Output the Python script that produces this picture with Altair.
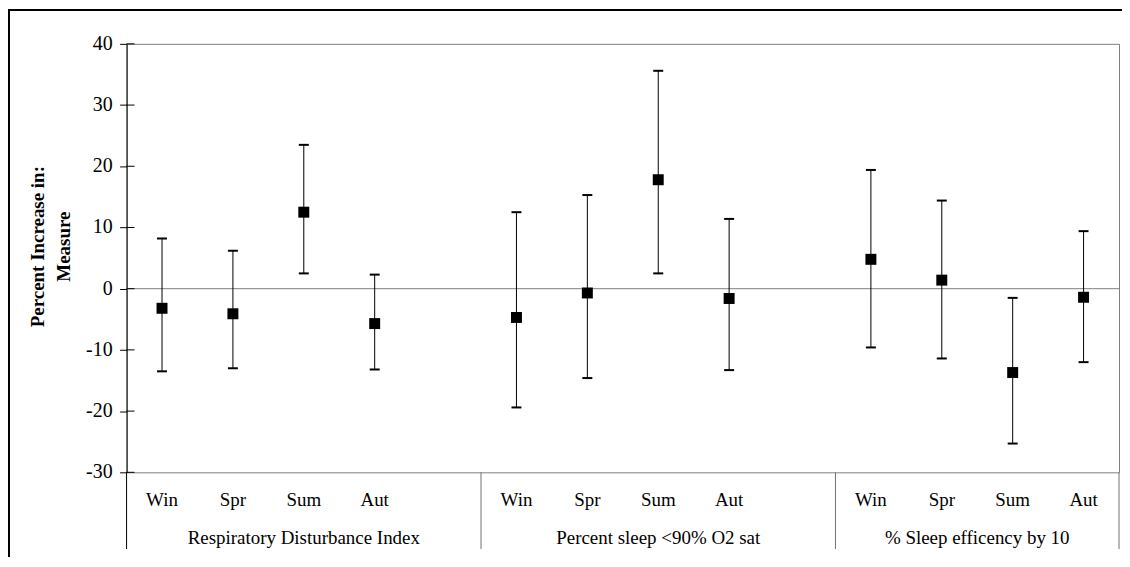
import altair as alt
import pandas as pd

groups = ["Respiratory Disturbance Index", "Percent sleep <90% O2 sat", "% Sleep efficency by 10"]
seasons = ["Win", "Spr", "Sum", "Aut"]
estimate = [[-3.2, -4.1, 12.5, -5.7], [-4.7, -0.7, 17.8, -1.6], [4.8, 1.4, -13.7, -1.4]]
lower = [[-13.5, -13.0, 2.5, -13.2], [-19.4, -14.6, 2.5, -13.3], [-9.6, -11.4, -25.3, -12.0]]
upper = [[8.2, 6.2, 23.5, 2.3], [12.5, 15.3, 35.6, 11.4], [19.4, 14.4, -1.5, 9.4]]
y_ticks = [-30, -20, -10, 0, 10, 20, 30, 40]
y_tick_labels = ["-30", "-20", "-10", "0", "10", "20", "30", "40"]
slots_per_group = [5, 5, 4]

W, H = 996, 430
FONT = "Liberation Serif"

rows, grows, bounds = [], [], [0]
start = 0
for g, name in enumerate(groups):
    for s, season in enumerate(seasons):
        rows.append({"group": name, "season": season, "pos": start + s + 0.5,
                     "est": estimate[g][s], "lo": lower[g][s], "hi": upper[g][s]})
    grows.append({"group": name, "center": start + slots_per_group[g] / 2})
    start += slots_per_group[g]
    bounds.append(start)

df = pd.DataFrame(rows)
gdf = pd.DataFrame(grows)
bdf = pd.DataFrame({"b": bounds})
tdf = pd.DataFrame({"t": y_ticks, "label": y_tick_labels})
zdf = pd.DataFrame({"z": [0]})
one = pd.DataFrame({"a": [0]})

xscale = alt.Scale(domain=[0, sum(slots_per_group)], nice=False, zero=False)
yscale = alt.Scale(domain=[-30, 40], nice=False, zero=False)

TITLE = ["Percent Increase in:", "Measure"]
yaxis = alt.Axis(values=y_ticks, tickSize=7, tickColor="black", domainColor="black",
                 labels=False,
                 grid=False, title=TITLE, titleFont=FONT,
                 titleFontSize=19, titleFontWeight="bold", titleColor="black",
                 titleX=-89, titleY=203, titleAngle=-90, titleAlign="center",
                 titleBaseline="middle", titleLineHeight=26)

X = alt.X("pos:Q", scale=xscale, axis=None)

points = alt.Chart(df).mark_square(size=121, color="black", filled=True, opacity=1).encode(
    x=X, y=alt.Y("est:Q", scale=yscale, axis=yaxis, title=TITLE))

zero = alt.Chart(zdf).mark_rule(color="#808080", strokeWidth=1).encode(
    y=alt.Y("z:Q", scale=yscale, axis=yaxis, title=TITLE))

inner_ticks = alt.Chart(tdf).mark_rule(color="black", strokeWidth=1).encode(
    y=alt.Y("t:Q", scale=yscale, axis=yaxis, title=TITLE), x=alt.value(0), x2=alt.value(8))

tick_labels = alt.Chart(tdf).mark_text(font=FONT, fontSize=20, color="black", align="right",
                                       baseline="middle").encode(
    y=alt.Y("t:Q", scale=yscale, axis=yaxis, title=TITLE), x=alt.value(-14), text="label:N")

bars = alt.Chart(df).mark_rule(color="black", strokeWidth=1).encode(
    x=X, y=alt.Y("lo:Q", scale=yscale, axis=yaxis, title=TITLE), y2="hi:Q")

cap_lo = alt.Chart(df).mark_tick(orient="horizontal", size=10, thickness=2, color="black", opacity=1).encode(
    x=X, y=alt.Y("lo:Q", scale=yscale, axis=yaxis, title=TITLE))
cap_hi = alt.Chart(df).mark_tick(orient="horizontal", size=10, thickness=2, color="black", opacity=1).encode(
    x=X, y=alt.Y("hi:Q", scale=yscale, axis=yaxis, title=TITLE))

season_text = alt.Chart(df).mark_text(font=FONT, fontSize=19, color="black", align="center",
                                      baseline="alphabetic").encode(
    x=X, y=alt.value(464), text="season:N")

group_text = alt.Chart(gdf).mark_text(font=FONT, fontSize=19, color="black", align="center",
                                      baseline="alphabetic").encode(
    x=alt.X("center:Q", scale=xscale, axis=None), y=alt.value(502), text="group:N")

separators = alt.Chart(bdf).mark_rule(strokeWidth=1).encode(
    x=alt.X("b:Q", scale=xscale, axis=None), y=alt.value(H), y2=alt.value(507),
    color=alt.condition(alt.datum.b == 0, alt.value("black"), alt.value("#707070")))

frame_left = alt.Chart(one).mark_rule(color="black", strokeWidth=2).encode(
    x=alt.value(-118), y=alt.value(-35), y2=alt.value(H + 85))
frame_top = alt.Chart(one).mark_rule(color="black", strokeWidth=2).encode(
    x=alt.value(-119), x2=alt.value(W + 3), y=alt.value(-34))

chart = alt.layer(
    zero, separators, inner_ticks, tick_labels, bars, cap_lo, cap_hi, points,
    season_text, group_text, frame_left, frame_top
).properties(
    width=W, height=H,
    autosize=alt.AutoSizeParams(type="none"),
    padding={"left": 119, "top": 35, "right": 3, "bottom": 85},
    background="white",
).configure_view(stroke="#808080", strokeWidth=1)

chart.save("out.html", embed_options={"renderer": "svg", "actions": False})
